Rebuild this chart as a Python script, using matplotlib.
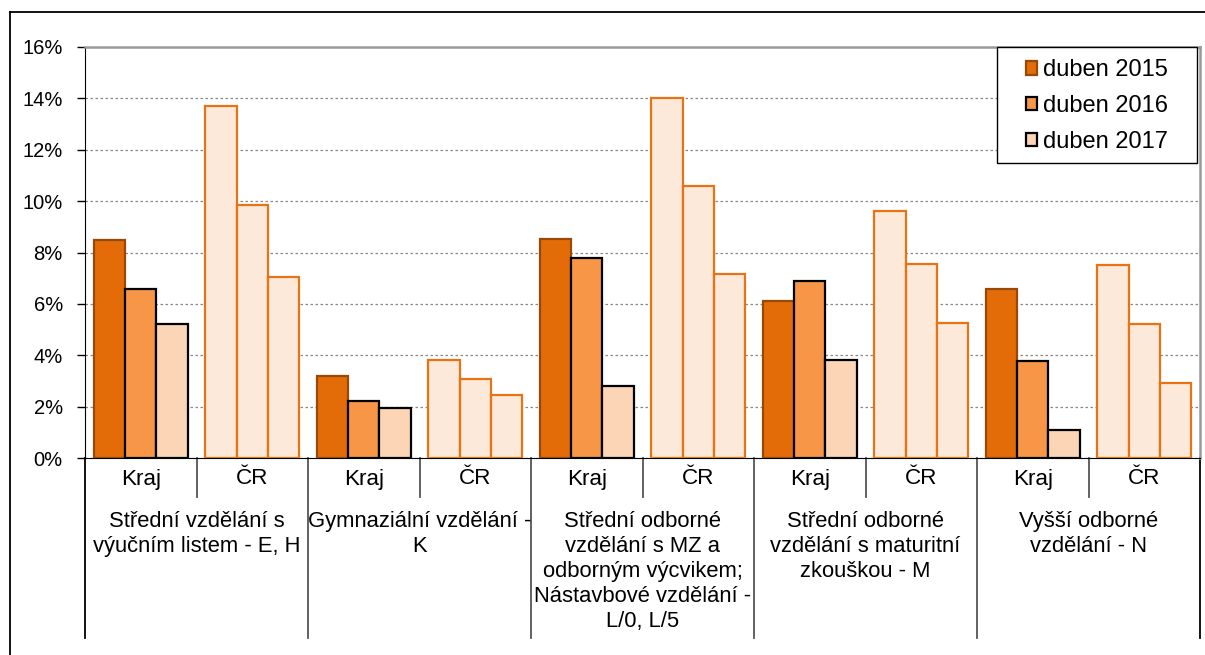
"""
Podíl nezaměstnaných absolventů podle stupně vzdělání - Kraj vs. ČR
"""

import numpy as np
import matplotlib
matplotlib.use("Agg")
import matplotlib.pyplot as plt
from matplotlib.lines import Line2D
from matplotlib.patches import Patch, Rectangle
from matplotlib.ticker import FuncFormatter

plt.rcParams['font.family'] = ['Liberation Sans', 'DejaVu Sans']

# data (v %)
groups = ["Střední vzdělání s\nvýučním listem - E, H",
          "Gymnaziální vzdělání -\nK",
          "Střední odborné\nvzdělání s MZ a\nodborným výcvikem;\nNástavbové vzdělání -\nL/0, L/5",
          "Střední odborné\nvzdělání s maturitní\nzkouškou - M",
          "Vyšší odborné\nvzdělání - N"]
subcats = ["Kraj", "ČR"]
series = ["duben 2015", "duben 2016", "duben 2017"]

apr2015 = [8.49, 13.70, 3.19, 3.81, 8.52, 14.01, 6.11, 9.61, 6.58, 7.51]
apr2016 = [6.58, 9.85, 2.22, 3.08, 7.78, 10.59, 6.89, 7.55, 3.78, 5.22]
apr2017 = [5.22, 7.05, 1.95, 2.45, 2.80, 7.16, 3.81, 5.25, 1.09, 2.92]

kraj_fill = ["#E36C09", "#F79646", "#FBD5B5"]
kraj_edge = ["#984807", "black", "black"]
cr_fill = "#FDE9D9"
cr_edge = "#E87315"


def draw_bars(ax, values, k, w):
    """
    Description:
        Draws one series, Kraj bars in series colour, ČR bars in light peach
    """
    x = np.arange(len(values))
    for i in x:
        if i % 2 == 0:
            fc, ec = kraj_fill[k], kraj_edge[k]
        else:
            fc, ec = cr_fill, cr_edge
        ax.bar(i + (k - 1) * w, values[i], width=w, color=fc,
               edgecolor=ec, linewidth=1.6, zorder=3)


W, H = 1205, 655
fig = plt.figure(figsize=(W / 100, H / 100), dpi=100)
ax = fig.add_axes([85 / W, (H - 458) / H, 1115 / W, 411 / H])

w = 0.28
for k, vals in enumerate([apr2015, apr2016, apr2017]):
    draw_bars(ax, vals, k, w)

n = len(apr2015)
ax.set_xlim(-0.5, n - 0.5)
ax.set_ylim(0, 16)
ax.set_yticks(np.arange(0, 17, 2))
ax.yaxis.set_major_formatter(FuncFormatter(lambda v, p: "%d%%" % v))
ax.tick_params(axis='y', direction='out', length=6, width=1, pad=10,
               labelsize=14.5)
ax.set_xticks([])

ax.grid(axis='y', color='#888888', linestyle=(0, (2, 2)), linewidth=0.9,
        zorder=0)

ax.spines['left'].set_color('black')
ax.spines['bottom'].set_color('black')
ax.spines['top'].set_color('#999999')
ax.spines['right'].set_color('#999999')
ax.spines['top'].set_linewidth(1.8)
ax.spines['right'].set_linewidth(1.8)

# multi-level category axis
tr = ax.get_xaxis_transform()
short_y = (458 - 497) / 411
long_y = (458 - 638) / 411
for b in range(n + 1):
    bottom = long_y if b % 2 == 0 else short_y
    col = 'black' if b in (0, n) else '#555555'
    ax.plot([b - 0.5, b - 0.5], [0, bottom], color=col, linewidth=1.3,
            transform=tr, clip_on=False)

for i in range(n):
    ax.text(i, (458 - 479) / 411, subcats[i % 2], transform=tr,
            ha='center', va='center', fontsize=16.2)

for g, label in enumerate(groups):
    ax.text(2 * g + 0.5, (458 - 511) / 411, label, transform=tr,
            ha='center', va='top', fontsize=15.8, linespacing=1.25)

# legend: frame drawn separately so the entries sit centred in it
lx0, lx1, ly0, ly1 = 997, 1197, 47, 163
fig.add_artist(Rectangle((lx0 / W, 1 - ly1 / H), (lx1 - lx0) / W,
                         (ly1 - ly0) / H, facecolor='white',
                         edgecolor='black', linewidth=1.0, zorder=4))
handles = [Patch(facecolor=kraj_fill[k], edgecolor=kraj_edge[k], linewidth=1.6)
           for k in range(3)]
leg = fig.legend(handles, series, loc='center',
                 bbox_to_anchor=((lx0 + lx1) / 2 / W, 1 - (ly0 + ly1 + 2) / 2 / H),
                 fontsize=17, handlelength=0.5, handleheight=0.5,
                 handletextpad=0.25, labelspacing=0.58, frameon=False)
leg.set_zorder(5)

# outer chart frame
fig.add_artist(Line2D([10 / W, 10 / W], [0, 1 - 12 / H],
                      color='black', linewidth=1.3))
fig.add_artist(Line2D([10 / W, 1], [1 - 12 / H, 1 - 12 / H],
                      color='black', linewidth=1.3))

fig.savefig("out.png", dpi=100, facecolor='white')
